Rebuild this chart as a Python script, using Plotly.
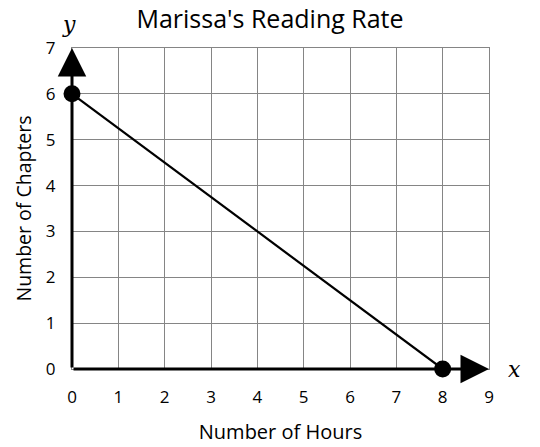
import plotly.graph_objects as go

hours = [0, 8]
chapters = [6, 0]
x_ticks = list(range(0, 10))
y_ticks = list(range(0, 8))
x_max = 9
y_max = 7

font_main = "'Open Sans', sans-serif"

fig = go.Figure()
fig.add_trace(go.Scatter(
    x=hours, y=chapters, mode="lines+markers",
    line=dict(color="black", width=2.2),
    marker=dict(color="black", size=17),
    cliponaxis=False, showlegend=False, hoverinfo="skip"))

# axis arrows
fig.add_annotation(x=0, y=y_max, ax=0, ay=0, xref="x", yref="y", axref="x", ayref="y",
                   showarrow=True, arrowhead=2, arrowwidth=3, arrowsize=1.9,
                   arrowcolor="black", text="")
fig.add_annotation(x=x_max, y=0, ax=0, ay=0, xref="x", yref="y", axref="x", ayref="y",
                   showarrow=True, arrowhead=2, arrowwidth=3, arrowsize=1.9,
                   arrowcolor="black", text="")

fig.add_annotation(x=0, y=1, xref="x", yref="paper", xshift=-3, yshift=24,
                   text="<i>y</i>", showarrow=False,
                   font=dict(family="'DejaVu Serif', serif", size=22, color="black"),
                   xanchor="center", yanchor="middle")
fig.add_annotation(x=1, y=0, xref="paper", yref="y", xshift=25,
                   text="<i>x</i>", showarrow=False,
                   font=dict(family="'DejaVu Serif', serif", size=22, color="black"),
                   xanchor="center", yanchor="middle")

# page body has an 8px margin; figure is sized to fill the rest of the window
fig.update_layout(
    width=532, height=439,
    margin=dict(l=64, r=51, t=40, b=78),
    paper_bgcolor="white", plot_bgcolor="white",
    font=dict(family=font_main, size=17, color="black"),
    title=dict(text="Marissa's Reading Rate", x=(270 - 8) / 532, xanchor="center",
               xref="container", yref="container",
               y=1 - 2 / 439, yanchor="top", font=dict(size=25, family=font_main)),
    xaxis=dict(range=[0, x_max], tickvals=x_ticks, showgrid=True, gridcolor="#858585",
               gridwidth=1, zeroline=False, showline=True, mirror=True, linecolor="#858585",
               linewidth=1, ticks="", ticklabelstandoff=13, automargin=False,
               title=dict(text="Number of Hours", font=dict(size=20), standoff=17),
               fixedrange=True),
    yaxis=dict(range=[0, y_max], tickvals=y_ticks, showgrid=True, gridcolor="#858585",
               gridwidth=1, zeroline=False, showline=True, mirror=True, linecolor="#858585",
               linewidth=1, ticks="", ticklabelstandoff=12, automargin=False,
               title=dict(text="Number of Chapters", font=dict(size=19.5), standoff=9),
               fixedrange=True),
)

fig.write_html("out.html")
